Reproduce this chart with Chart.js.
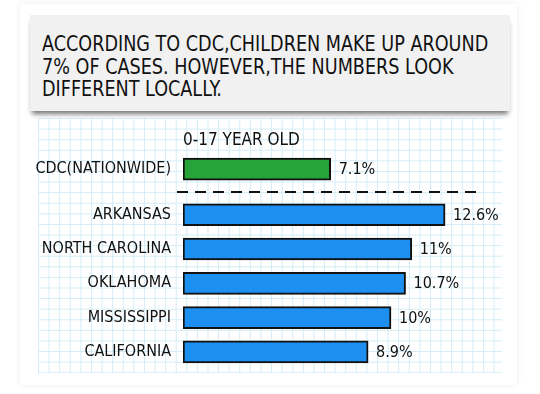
<!DOCTYPE html>
<html>
<head>
<meta charset="utf-8">
<script src="https://cdn.jsdelivr.net/npm/chart.js@4.4.0/dist/chart.umd.min.js"></script>
<style>
  body { margin: 0; width: 540px; height: 394px; background: #fff; position: relative; overflow: hidden; font-family: "DejaVu Sans Condensed", sans-serif; }
  #card { position: absolute; left: 20px; top: 4px; width: 497px; height: 381px; background: #fff; box-shadow: 0 0 6px rgba(0,0,0,0.08); }
  #note { position: absolute; left: 30px; top: 15px; width: 480px; height: 96px; background: #f1f1f1; box-shadow: 0 5px 5px -2px rgba(0,0,0,0.55); }
  #note p { margin: 0; position: absolute; left: 12px; top: 18px; font-size: 22px; line-height: 22.5px; color: #111; white-space: nowrap; transform: scaleX(0.89); transform-origin: left top; }
  #grid { position: absolute; left: 38px; top: 118px; width: 464px; height: 255px;
    background-color: #fff;
    background-image: linear-gradient(to right, #d3ecf7 1px, transparent 1px), linear-gradient(to bottom, #d3ecf7 1px, transparent 1px);
    background-size: 10.6px 10.6px; }
  #c { position: absolute; left: 0; top: 0; }
</style>
</head>
<body>
<div id="card"></div>
<div id="note"><p>ACCORDING TO CDC,CHILDREN MAKE UP AROUND<br>7% OF CASES. HOWEVER,THE NUMBERS LOOK<br>DIFFERENT LOCALLY.</p></div>
<div id="grid"></div>
<canvas id="c" width="540" height="394"></canvas>
<script>
const categories = ['CDC(NATIONWIDE)', 'ARKANSAS', 'NORTH CAROLINA', 'OKLAHOMA', 'MISSISSIPPI', 'CALIFORNIA'];
const shares = [7.1, 12.6, 11, 10.7, 10, 8.9];
const barColors = ['#27a33a', '#1d8ff0', '#1d8ff0', '#1d8ff0', '#1d8ff0', '#1d8ff0'];
const header = '0-17 YEAR OLD';

// CDC row sits a bit apart from the states
const rowPos = categories.map((c, i) => i === 0 ? 0 : i + 0.33);

const font = '"DejaVu Sans Condensed", sans-serif';

const extras = {
  id: 'extras',
  afterDatasetsDraw(chart) {
    const ctx = chart.ctx;
    const area = chart.chartArea;
    const y = chart.scales.y;
    ctx.save();
    ctx.fillStyle = '#111';
    ctx.font = '16px ' + font;
    ctx.textBaseline = 'middle';
    ctx.textAlign = 'left';
    chart.getDatasetMeta(0).data.forEach((bar, i) => {
      ctx.fillText(shares[i] + '%', bar.x + 8, bar.y + 1);
    });
    ctx.font = '17px ' + font;
    ctx.fillText(header, area.left, 141);
    // dashed separator
    const sy = y.getPixelForValue((rowPos[0] + rowPos[1]) / 2);
    ctx.strokeStyle = '#111';
    ctx.lineWidth = 2;
    ctx.setLineDash([11, 7]);
    ctx.beginPath();
    ctx.moveTo(area.left - 6, sy);
    ctx.lineTo(482, sy);
    ctx.stroke();
    ctx.restore();
  }
};

new Chart(document.getElementById('c'), {
  type: 'bar',
  data: {
    datasets: [{
      data: shares.map((v, i) => ({ x: v, y: rowPos[i] })),
      backgroundColor: barColors,
      borderColor: '#111',
      borderWidth: 2,
      borderSkipped: false,
      barThickness: 22
    }]
  },
  options: {
    indexAxis: 'y',
    responsive: false,
    animation: false,
    layout: { padding: { top: 152, bottom: 25, left: 0, right: 45 } },
    plugins: { legend: { display: false }, tooltip: { enabled: false } },
    scales: {
      x: { type: 'linear', min: 0, max: 15, display: false },
      y: {
        type: 'linear',
        min: -0.5,
        max: 5.83,
        reverse: true,
        offset: false,
        grid: { display: false },
        border: { display: false },
        afterBuildTicks: (s) => { s.ticks = rowPos.map(v => ({ value: v })); },
        afterFit: (s) => { s.width = 183; },
        ticks: {
          padding: 4,
          color: '#111',
          font: { size: 16, family: font },
          callback: (v, i) => categories[i]
        }
      }
    }
  },
  plugins: [extras]
});
</script>
</body>
</html>
